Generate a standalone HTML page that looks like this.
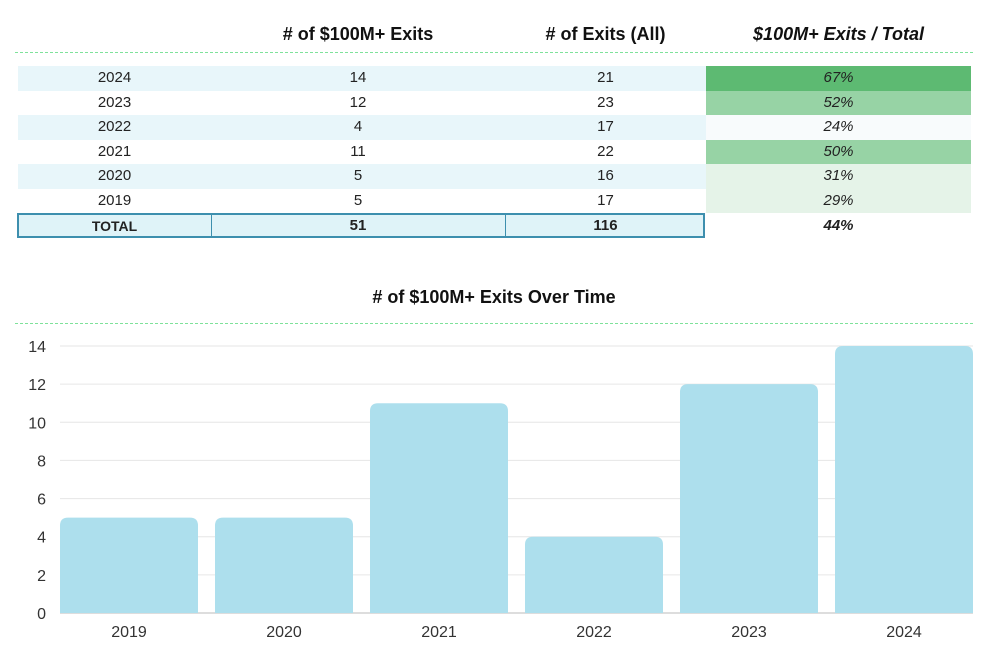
<!DOCTYPE html>
<html><head><meta charset="utf-8"><style>
body{margin:0;width:988px;height:655px;background:#fff;font-family:"Liberation Sans",sans-serif;position:relative;overflow:hidden}
.a{position:absolute}
.h{font-weight:bold;font-size:18px;color:#111;text-align:center;top:24px}
.c{position:absolute;text-align:center;font-size:15px;color:#222;line-height:24.5px;height:24.5px}
</style></head><body>
<div class="a h" style="left:211px;width:294px">#&nbsp;of $100M+ Exits</div>
<div class="a h" style="left:505px;width:201px">#&nbsp;of Exits (All)</div>
<div class="a h" style="left:706px;width:265px;font-style:italic">$100M+ Exits / Total</div>
<div class="a" style="left:15px;top:52px;width:958px;border-top:1px dashed #7ee29a"></div>
<div id="tbl"></div>
<div class="a" style="left:17px;top:213px;width:688px;height:25px;border:2px solid #3d8fae;box-sizing:border-box;background:#dff3f8"></div>
<div class="a" style="left:211px;top:213px;height:25px;border-left:1.5px solid #3d8fae"></div>
<div class="a" style="left:505px;top:213px;height:25px;border-left:1.5px solid #3d8fae"></div>
<div class="c" style="left:18px;width:193px;top:214px;font-weight:bold;font-size:14px">TOTAL</div>
<div class="c" style="left:211px;width:294px;top:214px;font-weight:bold">51</div>
<div class="c" style="left:505px;width:201px;top:214px;font-weight:bold">116</div>
<div class="c" style="left:706px;width:265px;top:214px;font-weight:bold;font-style:italic">44%</div>
<div class="a h" style="left:0;width:988px;top:287px">#&nbsp;of $100M+ Exits Over Time</div>
<div class="a" style="left:15px;top:323px;width:958px;border-top:1px dashed #7ee29a"></div>
<svg id="ch" class="a" style="left:0;top:0" width="988" height="655"></svg>
<script>
const years=["2024","2023","2022","2021","2020","2019"];
const big=[14,12,4,11,5,5];
const all=[21,23,17,22,16,17];
const pct=["67%","52%","24%","50%","31%","29%"];
const pctBg=["#5dba72","#97d3a5","#f8fbfc","#97d3a5","#e5f3e8","#e5f3e8"];
const tbl=document.getElementById('tbl');
years.forEach((y,i)=>{
 const top=66+i*24.5;
 const r=document.createElement('div');r.className='a';
 
 
 r.style.cssText=`left:18px;top:${top}px;width:688px;height:24.5px;background:${i%2==0?'#e8f6fa':'#fff'}`;
 tbl.appendChild(r);
 const cells=[[18,193,y,'year-'+y],[211,294,big[i],'big-exits-'+y],[505,201,all[i],'all-exits-'+y],[706,265,pct[i],'ratio-'+y]];
 cells.forEach((c,j)=>{const d=document.createElement('div');d.className='c';
 
 
 d.style.left=c[0]+'px';d.style.width=c[1]+'px';d.style.top=top+'px';
 if(j==3){d.style.background=pctBg[i];d.style.fontStyle='italic';}
 d.textContent=c[2];tbl.appendChild(d);});
});
const cats=["2019","2020","2021","2022","2023","2024"];
const vals=[5,5,11,4,12,14];
const ticks=[0,2,4,6,8,10,12,14];
const NS='http://www.w3.org/2000/svg',svg=document.getElementById('ch');
const x0=60,slot=155,bw=138,yb=613,ppu=(613-346)/14;
const yS=v=>yb-v*ppu;
function el(t,a){const e=document.createElementNS(NS,t);for(const k in a)e.setAttribute(k,a[k]);svg.appendChild(e);return e;}
ticks.forEach(t=>{
 const l=el('line',{x1:x0,x2:973,y1:yS(t),y2:yS(t),stroke:t==0?'#bbb':'#e6e6e6','stroke-width':1});
 
 
 const tx=el('text',{x:46,y:yS(t)+6,'text-anchor':'end','font-size':16,fill:'#333','font-family':'Liberation Sans'});
 
 
 tx.textContent=t;
});
cats.forEach((c,i)=>{
 const x=x0+i*slot,h=vals[i]*ppu,r=8;
 const p=el('path',{d:`M${x},${yb}V${yb-h+r}Q${x},${yb-h} ${x+r},${yb-h}H${x+bw-r}Q${x+bw},${yb-h} ${x+bw},${yb-h+r}V${yb}Z`,fill:'#addfed'});
 
 
 const tx=el('text',{x:x+bw/2,y:637,'text-anchor':'middle','font-size':16,fill:'#333','font-family':'Liberation Sans'});
 
 
 tx.textContent=c;
});
</script>
</body></html>
